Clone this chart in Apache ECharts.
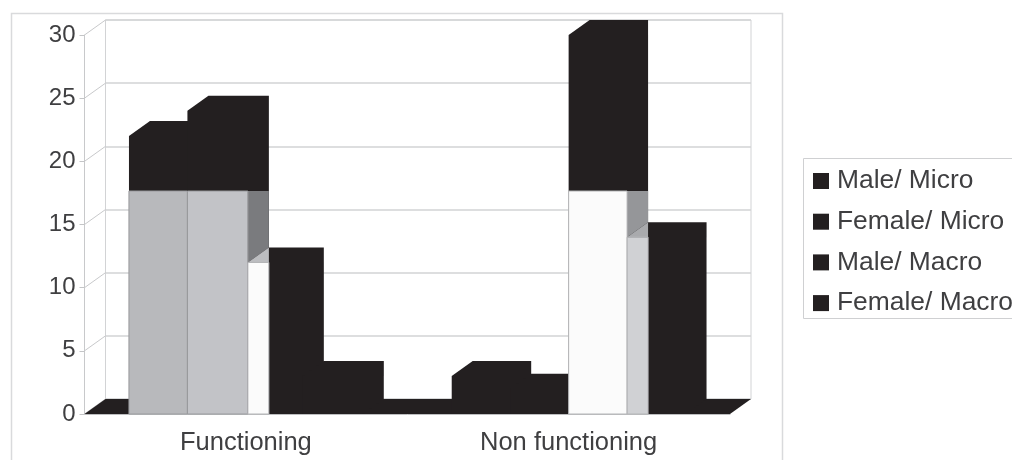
<!DOCTYPE html>
<html>
<head>
<meta charset="utf-8">
<style>html,body{margin:0;padding:0;background:#fff;overflow:hidden}#c{width:1012px;height:460px;filter:blur(0.4px)}</style>
<script src="https://cdn.jsdelivr.net/npm/echarts@6/dist/echarts.min.js"></script>
</head>
<body>
<div id="c"></div>
<script>
const categories = ['Functioning', 'Non functioning'];
const seriesNames = ['Male/ Micro', 'Female/ Micro', 'Male/ Macro', 'Female/ Macro'];
const maleMicro = [22, 3];
const femaleMicro = [24, 2];
const maleMacro = [12, 30];
const femaleMacro = [3, 14];
const yTicks = [0, 5, 10, 15, 20, 25, 30];

const allValues = [maleMicro, femaleMicro, maleMacro, femaleMacro];

// drawing constants
const BLACK = '#231f20', GRID = '#d2d3d5', TEXT = '#3f3f41';
const FL = 84.5, FR = 730, FT = 35, FB = 414;
const DX = 21, DY = -15;
const BAR_RATIO = 58.5 / 323;
const CAP = 17.65;
// paler faces and small edge adjustments of particular bars: "series-category"
const faces = {
  '0-0': {front: '#b8b9bc', cap: CAP, edge: '#9a9b9e'},
  '1-0': {front: '#c2c3c7', cap: CAP, edge: '#9a9b9e', side: '#7a7b7e', dr: 2},
  '2-0': {front: '#fbfbfb', narrow: true, top: '#bcbdc0', edge: '#b5b6b8', dl: 2, dr: -1.5},
  '3-0': {dl: -1.5},
  '2-1': {front: '#fbfbfb', cap: CAP, edge: '#b5b6b8', side: '#959699'},
  '3-1': {front: '#d0d1d4', narrow: true, top: '#a9aaad', edge: '#b5b6b8'}
};

function barRender(si) {
  return function (params, api) {
    const ci = api.value(0), v = api.value(1);
    const catW = api.size([1, 0])[0];
    const w = catW * BAR_RATIO;
    const c = api.coord([ci, v]);
    const y0 = api.coord([ci, 0])[1];
    const yT = c[1];
    const f = faces[si + '-' + ci] || {};
    const xl = c[0] + (si - 2) * w + (f.dl || 0), xr = c[0] + (si - 1) * w + (f.dr || 0);
    const bw = xr - xl;
    const kids = [{
      type: 'polygon',
      shape: {points: [[xl, y0], [xl, yT], [xl + DX, yT + DY], [xr + DX, yT + DY], [xr + DX, y0 + DY], [xr, y0]]},
      style: {fill: BLACK}
    }];
    if (f.front) {
      const capY = f.cap !== undefined ? api.coord([ci, f.cap])[1] : yT;
      if (f.side) {
        kids.push({
          type: 'polygon',
          shape: {points: [[xr, capY], [xr + DX, capY], [xr + DX, y0 + DY], [xr, y0]]},
          style: {fill: f.side}
        });
      }
      if (f.top) {
        kids.push({
          type: 'polygon',
          shape: {points: [[xl, yT], [xl + DX, yT + DY], [xl + DX, yT]]},
          style: {fill: f.top}
        });
      }
      kids.push({
        type: 'rect',
        shape: {x: xl, y: capY, width: f.narrow ? DX : bw, height: y0 - capY},
        style: {fill: f.front, stroke: f.edge, lineWidth: 1}
      });
    }
    return {type: 'group', children: kids};
  };
}

const barSeries = seriesNames.map((name, si) => ({
  name, type: 'custom', xAxisIndex: 0, yAxisIndex: 0, z: 5,
  itemStyle: {color: BLACK},
  renderItem: barRender(si),
  encode: {x: 0, y: 1},
  data: allValues[si].map((v, ci) => [ci, v])
}));

const option = {
  animation: false,
  backgroundColor: '#fff',
  textStyle: {fontFamily: 'Liberation Sans'},
  grid: [
    {left: FL, top: FT, width: FR - FL, height: FB - FT},
    {left: FL + DX, top: FT + DY, width: FR - FL, height: FB - FT, show: true, borderColor: GRID, borderWidth: 1, backgroundColor: 'transparent'}
  ],
  xAxis: [
    {type: 'category', gridIndex: 0, data: categories,
      axisLine: {lineStyle: {color: '#bdbec0', width: 1}},
      axisTick: {length: 5, lineStyle: {color: '#c4c5c7'}},
      axisLabel: {fontSize: 25.5, color: TEXT, margin: 16, fontFamily: 'Liberation Sans'}},
    {type: 'category', gridIndex: 1, data: categories, show: false}
  ],
  yAxis: [
    {type: 'value', gridIndex: 0, min: 0, max: 30, interval: 5,
      axisLine: {show: true, lineStyle: {color: '#c8c9cb', width: 1}},
      axisTick: {show: true, length: 5, lineStyle: {color: '#c4c5c7'}},
      axisLabel: {fontSize: 24, color: TEXT, margin: 9, fontFamily: 'Liberation Sans', formatter: v => yTicks.includes(v) ? String(v) : ''},
      splitLine: {show: false}},
    {type: 'value', gridIndex: 1, min: 0, max: 30, interval: 5,
      axisLine: {show: false}, axisTick: {show: false}, axisLabel: {show: false},
      splitLine: {show: true, lineStyle: {color: GRID, width: 1.5}}}
  ],
  legend: {
    orient: 'vertical', left: 813, top: 166, padding: 0,
    itemWidth: 16, itemHeight: 16, itemGap: 10.7,
    icon: 'rect', selectedMode: false,
    data: seriesNames,
    textStyle: {fontSize: 26.4, lineHeight: 30, color: TEXT, padding: [0, 0, 0, 3], fontFamily: 'Liberation Sans'}
  },
  graphic: [
    {type: 'rect', z: -1, shape: {x: 11.5, y: 13.5, width: 771, height: 470}, style: {fill: 'none', stroke: '#d9dadc', lineWidth: 1.5}},
    {type: 'rect', z: -1, shape: {x: 803.5, y: 158.5, width: 240, height: 160}, style: {fill: 'none', stroke: '#cfd0d2', lineWidth: 1}}
  ],
  series: [
    {
      name: 'wallTicks', type: 'custom', xAxisIndex: 0, yAxisIndex: 0, z: 1,
      encode: {y: 0},
      data: yTicks.map(v => [v]),
      renderItem(params, api) {
        const y = api.coord([0, api.value(0)])[1];
        return {type: 'line', shape: {x1: FL, y1: y, x2: FL + DX, y2: y + DY}, style: {stroke: '#c8c9cb', lineWidth: 1}};
      }
    },
    {
      name: 'floor', type: 'custom', xAxisIndex: 0, yAxisIndex: 0, z: 2,
      encode: {y: 0},
      data: [[0]],
      renderItem(params, api) {
        const y = api.coord([0, 0])[1];
        return {type: 'polygon', shape: {points: [[FL, y], [FR, y], [FR + DX, y + DY], [FL + DX, y + DY]]}, style: {fill: BLACK}};
      }
    },
    ...barSeries
  ]
};
const chart = echarts.init(document.getElementById('c'), null, {renderer: 'canvas'});
chart.setOption(option);
</script>
</body>
</html>
